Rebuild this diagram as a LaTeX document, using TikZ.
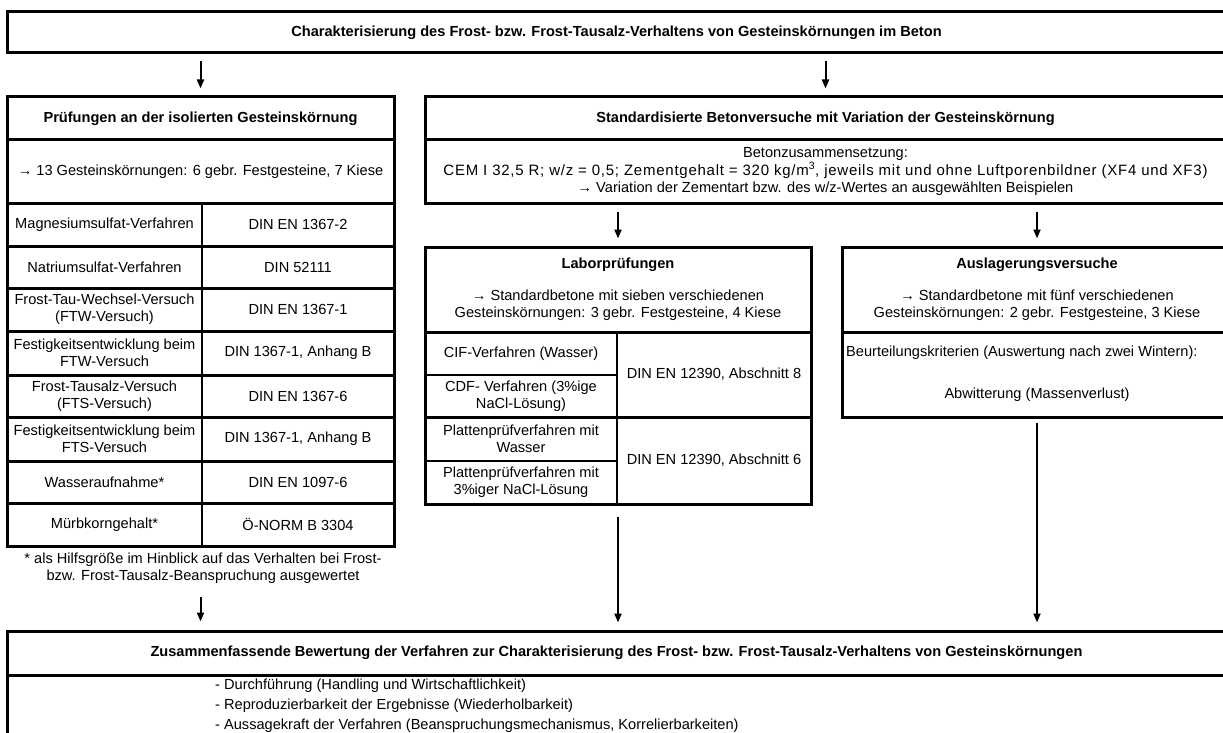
\documentclass[tikz,border=0pt]{standalone}
\usepackage{fontspec}
\setmainfont{Liberation Sans}
\newfontfamily\cemfont[LetterSpace=5]{Liberation Sans}
\usetikzlibrary{arrows.meta}
\newcommand{\fs}{\fontsize{14.6}{17}\selectfont}

\begin{document}
\begin{tikzpicture}[x=1pt,y=-1pt]
\tikzstyle{frame}=[draw,line width=3pt,inner sep=0pt,align=center,font=\fs]
\tikzstyle{head}=[frame,font=\fs\bfseries]
\tikzstyle{cell}=[draw,line width=1.8pt,inner sep=0pt,align=center,font=\fs]
\tikzstyle{txt}=[inner sep=0pt,align=center,font=\fs]
\tikzstyle{arr}=[-{Triangle[length=9pt,width=7pt]},line width=2pt,shorten <=7pt,shorten >=7pt]
\useasboundingbox (0,0) rectangle (1223,733);
\clip (0,0) rectangle (1223,733);

% goal
\node[head,minimum width=1219,minimum height=41] (goal) at (616.5,32.5) {Charakterisierung des Frost- bzw. Frost-Tausalz-Verhaltens von Gesteinskörnungen im Beton};

% tests on the aggregate itself
\node[head,minimum width=387,minimum height=43] (lefthead) at (200.5,118.5) {Prüfungen an der isolierten Gesteinskörnung};
\node[frame,minimum width=387,minimum height=63] (leftbody) at (200.5,171.5) {→ 13 Gesteinskörnungen: 6 gebr. Festgesteine, 7 Kiese};
\node[frame,minimum width=387,minimum height=43] (r1) at (200.5,224.5) {};
\node[frame,minimum width=387,minimum height=42] (r2) at (200.5,267) {};
\node[frame,minimum width=387,minimum height=43] (r3) at (200.5,309.5) {};
\node[frame,minimum width=387,minimum height=44] (r4) at (200.5,353) {};
\node[frame,minimum width=387,minimum height=42] (r5) at (200.5,396) {};
\node[frame,minimum width=387,minimum height=44] (r6) at (200.5,439) {};
\node[frame,minimum width=387,minimum height=42] (r7) at (200.5,482) {};
\node[frame,minimum width=387,minimum height=43] (r8) at (200.5,524.5) {};
\node[cell,minimum width=195,minimum height=43] (m1) at (104.5,224.5) {Magnesiumsulfat-Verfahren};
\node[cell,minimum width=195,minimum height=42] (m2) at (104.5,267) {Natriumsulfat-Verfahren};
\node[cell,minimum width=195,minimum height=43] (m3) at (104.5,309.5) {Frost-Tau-Wechsel-Versuch\\(FTW-Versuch)};
\node[cell,minimum width=195,minimum height=44] (m4) at (104.5,353) {Festigkeitsentwicklung beim\\FTW-Versuch};
\node[cell,minimum width=195,minimum height=42] (m5) at (104.5,396) {Frost-Tausalz-Versuch\\(FTS-Versuch)};
\node[cell,minimum width=195,minimum height=44] (m6) at (104.5,439) {Festigkeitsentwicklung beim\\FTS-Versuch};
\node[cell,minimum width=195,minimum height=42] (m7) at (104.5,482) {Wasseraufnahme*};
\node[cell,minimum width=195,minimum height=43] (m8) at (104.5,524.5) {Mürbkorngehalt*};
\node[txt] (n1) at (298,224.5) {DIN EN 1367-2};
\node[txt] (n2) at (298,267) {DIN 52111};
\node[txt] (n3) at (298,309.5) {DIN EN 1367-1};
\node[txt] (n4) at (298,353) {DIN 1367-1, Anhang B};
\node[txt] (n5) at (298,396) {DIN EN 1367-6};
\node[txt] (n6) at (298,439) {DIN 1367-1, Anhang B};
\node[txt] (n7) at (298,482) {DIN EN 1097-6};
\node[txt] (n8) at (298,524.5) {Ö-NORM B 3304};
\node[txt] (note) at (203,568.5) {* als Hilfsgröße im Hinblick auf das Verhalten bei Frost-\\bzw. Frost-Tausalz-Beanspruchung ausgewertet};

% concrete tests
\node[head,minimum width=801,minimum height=43] (stdhead) at (825.5,118.5) {Standardisierte Betonversuche mit Variation der Gesteinskörnung};
\node[frame,minimum width=801,minimum height=63,font=\fontsize{14.6}{17.5}\selectfont] (stdbody) at (825.5,171.5) {Betonzusammensetzung:\\{\cemfont\fontsize{15}{17.5}\selectfont CEM I 32,5 R; w/z = 0,5; Zementgehalt = 320 kg/m\textsuperscript{3}, jeweils mit und ohne Luftporenbildner (XF4 und XF3)}\\→ Variation der Zementart bzw. des w/z-Wertes an ausgewählten Beispielen};

\node[frame,minimum width=386,minimum height=85] (laborhead) at (618,289.5) {\textbf{Laborprüfungen}\\[15pt]→ Standardbetone mit sieben verschiedenen\\Gesteinskörnungen: 3 gebr. Festgesteine, 4 Kiese};
\node[frame,minimum width=386,minimum height=85] (g8) at (618,374.5) {};
\node[frame,minimum width=386,minimum height=87] (g6) at (618,460.5) {};
\node[cell,minimum width=192,minimum height=43] (cif) at (521,353.5) {CIF-Verfahren (Wasser)};
\node[cell,minimum width=192,minimum height=42] (cdf) at (521,396) {CDF- Verfahren (3\%ige\\NaCl-Lösung)};
\node[cell,minimum width=192,minimum height=44] (pw) at (521,439) {Plattenprüfverfahren mit\\Wasser};
\node[cell,minimum width=192,minimum height=43] (pn) at (521,482.5) {Plattenprüfverfahren mit\\3\%iger NaCl-Lösung};
\node[txt] (a8) at (714,374.5) {DIN EN 12390, Abschnitt 8};
\node[txt] (a6) at (714,460.5) {DIN EN 12390, Abschnitt 6};

\node[frame,minimum width=390,minimum height=85] (fieldhead) at (1037,289.5) {\textbf{Auslagerungsversuche}\\[15pt]→ Standardbetone mit fünf verschiedenen\\Gesteinskörnungen: 2 gebr. Festgesteine, 3 Kiese};
\node[frame,minimum width=390,minimum height=85] (fieldbody) at (1037,374.5) {};
\node[txt,anchor=west] (crit) at (846,353) {Beurteilungskriterien (Auswertung nach zwei Wintern):};
\node[txt] (loss) at (1037,395) {Abwitterung (Massenverlust)};

% summary
\node[head,minimum width=1219,minimum height=44] (sumhead) at (616.5,653) {Zusammenfassende Bewertung der Verfahren zur Charakterisierung des Frost- bzw. Frost-Tausalz-Verhaltens von Gesteinskörnungen};
\node[frame,minimum width=1219,minimum height=95] (sumbody) at (616.5,722.5) {};
\node[txt,align=left,anchor=north west,font=\fontsize{14.6}{20}\selectfont] (points) at (215,679) {- Durchführung (Handling und Wirtschaftlichkeit)\\- Reproduzierbarkeit der Ergebnisse (Wiederholbarkeit)\\- Aussagekraft der Verfahren (Beanspruchungsmechanismus, Korrelierbarkeiten)};

\draw[arr] (lefthead.north |- goal.south) -- (lefthead.north);
\draw[arr] (stdhead.north |- goal.south) -- (stdhead.north);
\draw[arr] (laborhead.north |- stdbody.south) -- (laborhead.north);
\draw[arr] (fieldhead.north |- stdbody.south) -- (fieldhead.north);
\draw[arr,shorten <=13pt,shorten >=8pt] (lefthead.south |- note.south) -- (lefthead.south |- sumhead.north);
\draw[arr,shorten <=11pt] (laborhead.center |- g6.south) -- (laborhead.center |- sumhead.north);
\draw[arr,shorten <=4pt] (fieldbody.south) -- (fieldbody.south |- sumhead.north);
\end{tikzpicture}
\end{document}
